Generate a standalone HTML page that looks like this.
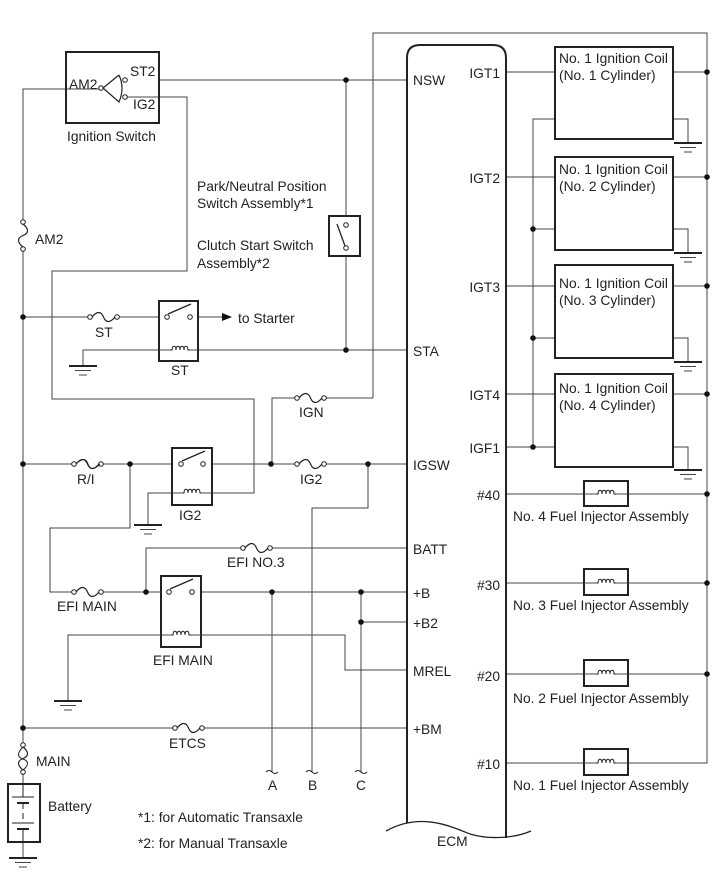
<!DOCTYPE html>
<html><head><meta charset="utf-8"><style>
html,body{margin:0;padding:0;background:#fff;}
svg{display:block;}
text{font-family:"Liberation Sans",Arial,sans-serif;font-size:13.8px;fill:#222;}
</style></head><body>
<svg width="713" height="882" viewBox="0 0 713 882" xmlns="http://www.w3.org/2000/svg">
<defs>
<g id="gnd"><line x1="-14" y1="0" x2="14" y2="0" stroke="#222" stroke-width="2"/><line x1="-8" y1="4.5" x2="8" y2="4.5" stroke="#444" stroke-width="1"/><line x1="-4" y1="9" x2="4" y2="9" stroke="#444" stroke-width="1"/></g>
<g id="fuse"><circle cx="0" cy="0" r="2.3" fill="#fff" stroke="#222" stroke-width="1"/><circle cx="27" cy="0" r="2.3" fill="#fff" stroke="#222" stroke-width="1"/><path d="M2,0 C7,-6 11,-6 13.5,0 C16,6 20,6 25,0" fill="none" stroke="#222" stroke-width="1.2"/></g>
<g id="coil"><path d="M-10,0 h2 c0,-5 4,-5 4,0 c0,-5 4,-5 4,0 c0,-5 4,-5 4,0 c0,-5 4,-5 4,0 h2" fill="none" stroke="#222" stroke-width="1"/></g>
<g id="dot"><circle r="2.8" fill="#111"/></g>
</defs>
<g fill="none" stroke="#444" stroke-width="1">
<polyline points="373,398 373,33 707,33 707,763 672,763"/>
<polyline points="272,463 272,398 296,398"/><line x1="324" y1="398" x2="373" y2="398"/>
<line x1="159" y1="80" x2="407" y2="80"/>
<line x1="346" y1="80" x2="346" y2="225"/><line x1="346" y1="248" x2="346" y2="350"/>
<polyline points="99,89 23,89 23,222"/><line x1="23" y1="248" x2="23" y2="745"/>
<polyline points="127,97 187,97 187,271 52,271 52,399 254,399 254,493 212,493"/>
<polyline points="172,493 148,493 148,525"/>
<line x1="23" y1="317" x2="90" y2="317"/><line x1="117" y1="317" x2="159" y2="317"/>
<line x1="198" y1="317" x2="222" y2="317"/>
<polyline points="83,366 83,350 159,350"/><line x1="198" y1="350" x2="407" y2="350"/>
<line x1="23" y1="464" x2="74" y2="464"/><line x1="102" y1="464" x2="172" y2="464"/>
<line x1="212" y1="464" x2="297" y2="464"/><line x1="324" y1="464" x2="407" y2="464"/>
<polyline points="130,464 130,528 50,528 50,592 74,592"/>
<line x1="101" y1="592" x2="161" y2="592"/>
<polyline points="146,592 146,548 242,548"/><line x1="270" y1="548" x2="407" y2="548"/>
<line x1="201" y1="592" x2="407" y2="592"/>
<polyline points="368,464 368,508 312,508 312,772"/>
<line x1="272" y1="592" x2="272" y2="772"/>
<line x1="361" y1="592" x2="361" y2="772"/>
<line x1="361" y1="622" x2="407" y2="622"/>
<polyline points="68,700 68,635 161,635"/><polyline points="201,635 345,635 345,670 407,670"/>
<line x1="23" y1="728" x2="175" y2="728"/><line x1="202" y1="728" x2="407" y2="728"/>
<line x1="23" y1="772" x2="23" y2="857"/>
<line x1="506" y1="72" x2="555" y2="72"/><line x1="673" y1="72" x2="707" y2="72"/>
<line x1="506" y1="177" x2="555" y2="177"/><line x1="673" y1="177" x2="707" y2="177"/>
<line x1="506" y1="286" x2="555" y2="286"/><line x1="673" y1="286" x2="707" y2="286"/>
<line x1="506" y1="394" x2="555" y2="394"/><line x1="673" y1="394" x2="707" y2="394"/>
<line x1="506" y1="447" x2="555" y2="447"/>
<polyline points="555,119 533,119 533,447"/>
<line x1="533" y1="229" x2="555" y2="229"/><line x1="533" y1="338" x2="555" y2="338"/>
<polyline points="673,119 688,119 688,143"/><polyline points="673,229 688,229 688,252"/>
<polyline points="673,338 688,338 688,361"/><polyline points="673,447 688,447 688,470"/>
<line x1="506" y1="494" x2="707" y2="494"/><line x1="506" y1="583" x2="707" y2="583"/>
<line x1="506" y1="674" x2="707" y2="674"/><line x1="506" y1="763" x2="672" y2="763"/>
</g>
<use href="#gnd" x="83" y="366"/><use href="#gnd" x="148" y="525"/><use href="#gnd" x="68" y="701"/>
<use href="#gnd" x="23" y="858"/>
<use href="#gnd" x="688" y="143"/><use href="#gnd" x="688" y="253"/><use href="#gnd" x="688" y="362"/><use href="#gnd" x="688" y="470"/>
<use href="#dot" x="346" y="80"/><use href="#dot" x="346" y="350"/><use href="#dot" x="23" y="317"/>
<use href="#dot" x="23" y="464"/><use href="#dot" x="130" y="464"/><use href="#dot" x="271" y="464"/><use href="#dot" x="368" y="464"/>
<use href="#dot" x="146" y="592"/><use href="#dot" x="272" y="592"/><use href="#dot" x="361" y="592"/><use href="#dot" x="361" y="622"/>
<use href="#dot" x="23" y="728"/>
<use href="#dot" x="707" y="72"/><use href="#dot" x="707" y="177"/><use href="#dot" x="707" y="286"/><use href="#dot" x="707" y="394"/>
<use href="#dot" x="707" y="494"/><use href="#dot" x="707" y="583"/><use href="#dot" x="707" y="674"/>
<use href="#dot" x="533" y="229"/><use href="#dot" x="533" y="338"/><use href="#dot" x="533" y="447"/>
<use href="#fuse" x="90" y="317"/><use href="#fuse" x="297" y="398"/><use href="#fuse" x="297" y="464"/>
<use href="#fuse" x="74" y="464"/><use href="#fuse" x="74" y="592"/><use href="#fuse" x="243" y="548"/>
<use href="#fuse" x="175" y="728"/>
<g transform="translate(23,222) rotate(90)"><use href="#fuse"/></g>
<g transform="translate(23,745) rotate(90)"><use href="#fuse"/></g>
<path d="M76,464 C82,458 86,458 88,464 C90,470 94,470 100,464" fill="none" stroke="#222" stroke-width="1"/>
<path d="M23,747 C17,753 17,757 23,759 C29,761 29,765 23,770" fill="none" stroke="#222" stroke-width="1"/>
<rect x="66" y="52" width="93" height="71" fill="none" stroke="#222" stroke-width="2"/>
<circle cx="101" cy="88" r="2.3" fill="#fff" stroke="#222"/>
<path d="M119,75 L103,88 L119,102 Q125,88 119,75" fill="none" stroke="#222" stroke-width="1.2"/>
<circle cx="125" cy="80" r="2.3" fill="#fff" stroke="#222"/><circle cx="125" cy="97" r="2.3" fill="#fff" stroke="#222"/>
<rect x="329" y="216" width="31" height="40" fill="#fff" stroke="#222" stroke-width="2"/>
<circle cx="346" cy="225" r="2.3" fill="#fff" stroke="#222"/><circle cx="346" cy="248" r="2.3" fill="#fff" stroke="#222"/>
<line x1="337" y1="224" x2="345" y2="246" stroke="#222" stroke-width="1.3"/>
<rect x="159" y="301" width="39" height="60" fill="none" stroke="#222" stroke-width="2"/>
<circle cx="167" cy="317" r="2.3" fill="#fff" stroke="#222"/><circle cx="190" cy="317" r="2.3" fill="#fff" stroke="#222"/>
<line x1="168" y1="314" x2="191" y2="304" stroke="#222" stroke-width="1.3"/>
<line x1="159" y1="350" x2="170" y2="350" stroke="#444"/><line x1="190" y1="350" x2="198" y2="350" stroke="#444"/>
<use href="#coil" x="180" y="350"/>
<polygon points="222,313 232,317 222,321" fill="#111"/>
<rect x="172" y="448" width="40" height="57" fill="none" stroke="#222" stroke-width="2"/>
<circle cx="181" cy="464" r="2.3" fill="#fff" stroke="#222"/><circle cx="203" cy="464" r="2.3" fill="#fff" stroke="#222"/>
<line x1="182" y1="461" x2="205" y2="451" stroke="#222" stroke-width="1.3"/>
<line x1="172" y1="493" x2="182" y2="493" stroke="#444"/><line x1="202" y1="493" x2="212" y2="493" stroke="#444"/>
<use href="#coil" x="192" y="493"/>
<rect x="161" y="576" width="40" height="71" fill="none" stroke="#222" stroke-width="2"/>
<circle cx="169" cy="592" r="2.3" fill="#fff" stroke="#222"/><circle cx="192" cy="592" r="2.3" fill="#fff" stroke="#222"/>
<line x1="170" y1="589" x2="193" y2="579" stroke="#222" stroke-width="1.3"/>
<line x1="161" y1="635" x2="171" y2="635" stroke="#444"/><line x1="191" y1="635" x2="201" y2="635" stroke="#444"/>
<use href="#coil" x="181" y="635"/>
<rect x="8" y="784" width="32" height="58" fill="#fff" stroke="#222" stroke-width="2"/>
<g stroke="#222" stroke-width="1"><line x1="23" y1="784" x2="23" y2="797"/><line x1="12" y1="797" x2="34" y2="797"/><line x1="17" y1="803" x2="29" y2="803" stroke-width="2"/><line x1="23" y1="803" x2="23" y2="809"/><line x1="23" y1="813" x2="23" y2="819"/><line x1="12" y1="823" x2="34" y2="823"/><line x1="17" y1="829" x2="29" y2="829" stroke-width="2"/><line x1="23" y1="829" x2="23" y2="842"/></g>
<g fill="none" stroke="#222"><path d="M266,772 q3,-3 6,0 q3,3 6,0"/><path d="M306,772 q3,-3 6,0 q3,3 6,0"/><path d="M355,772 q3,-3 6,0 q3,3 6,0"/></g>
<path d="M407,823 L407,58 Q407,45 420,45 L493,45 Q506,45 506,58 L506,838" fill="none" stroke="#222" stroke-width="2"/>
<path d="M386,831 C420,812 450,826 470,834 C490,840 515,838 531,831" fill="none" stroke="#222" stroke-width="1.3"/>
<g fill="#fff" stroke="#222" stroke-width="2">
<rect x="555" y="47" width="118" height="92"/><rect x="555" y="157" width="118" height="93"/>
<rect x="555" y="265" width="118" height="93"/><rect x="555" y="374" width="118" height="93"/>
<rect x="584" y="481" width="44" height="25"/><rect x="584" y="569" width="44" height="26"/>
<rect x="584" y="660" width="44" height="26"/><rect x="584" y="749" width="44" height="26"/>
</g>
<g stroke="#444"><line x1="584" y1="494" x2="596" y2="494"/><line x1="616" y1="494" x2="628" y2="494"/><line x1="584" y1="583" x2="596" y2="583"/><line x1="616" y1="583" x2="628" y2="583"/><line x1="584" y1="674" x2="596" y2="674"/><line x1="616" y1="674" x2="628" y2="674"/><line x1="584" y1="763" x2="596" y2="763"/><line x1="616" y1="763" x2="628" y2="763"/></g>
<use href="#coil" x="606" y="494"/><use href="#coil" x="606" y="583"/><use href="#coil" x="606" y="674"/><use href="#coil" x="606" y="763"/>
<text x="69" y="89">AM2</text><text x="130" y="76">ST2</text><text x="133" y="109">IG2</text>
<text x="67" y="141">Ignition Switch</text>
<text x="197" y="191">Park/Neutral Position</text><text x="197" y="208">Switch Assembly*1</text>
<text x="197" y="250">Clutch Start Switch</text><text x="197" y="268">Assembly*2</text>
<text x="35" y="244">AM2</text>
<text x="95" y="337">ST</text><text x="238" y="323">to Starter</text><text x="171" y="375">ST</text>
<text x="299" y="417">IGN</text>
<text x="77" y="484">R/I</text><text x="300" y="484">IG2</text><text x="179" y="520">IG2</text>
<text x="227" y="567">EFI NO.3</text><text x="57" y="611">EFI MAIN</text><text x="153" y="665">EFI MAIN</text>
<text x="169" y="748">ETCS</text><text x="36" y="766">MAIN</text><text x="48" y="811">Battery</text>
<text x="268" y="790">A</text><text x="308" y="790">B</text><text x="356" y="790">C</text>
<text x="138" y="822">*1: for Automatic Transaxle</text><text x="138" y="848">*2: for Manual Transaxle</text>
<text x="437" y="846">ECM</text>
<text x="413" y="85">NSW</text><text x="413" y="356">STA</text><text x="413" y="470">IGSW</text>
<text x="413" y="554">BATT</text><text x="413" y="598">+B</text><text x="413" y="628">+B2</text>
<text x="413" y="676">MREL</text><text x="413" y="734">+BM</text>
<g text-anchor="end"><text x="500" y="78">IGT1</text><text x="500" y="183">IGT2</text><text x="500" y="292">IGT3</text><text x="500" y="400">IGT4</text><text x="500" y="453">IGF1</text>
<text x="500" y="500">#40</text><text x="500" y="590">#30</text><text x="500" y="681">#20</text><text x="500" y="769">#10</text></g>
<text x="559" y="63">No. 1 Ignition Coil</text><text x="559" y="80">(No. 1 Cylinder)</text>
<text x="559" y="174">No. 1 Ignition Coil</text><text x="559" y="191">(No. 2 Cylinder)</text>
<text x="559" y="288">No. 1 Ignition Coil</text><text x="559" y="305">(No. 3 Cylinder)</text>
<text x="559" y="393">No. 1 Ignition Coil</text><text x="559" y="410">(No. 4 Cylinder)</text>
<text x="513" y="521">No. 4 Fuel Injector Assembly</text>
<text x="513" y="610">No. 3 Fuel Injector Assembly</text>
<text x="513" y="703">No. 2 Fuel Injector Assembly</text>
<text x="513" y="790">No. 1 Fuel Injector Assembly</text>
</svg>
</body></html>
